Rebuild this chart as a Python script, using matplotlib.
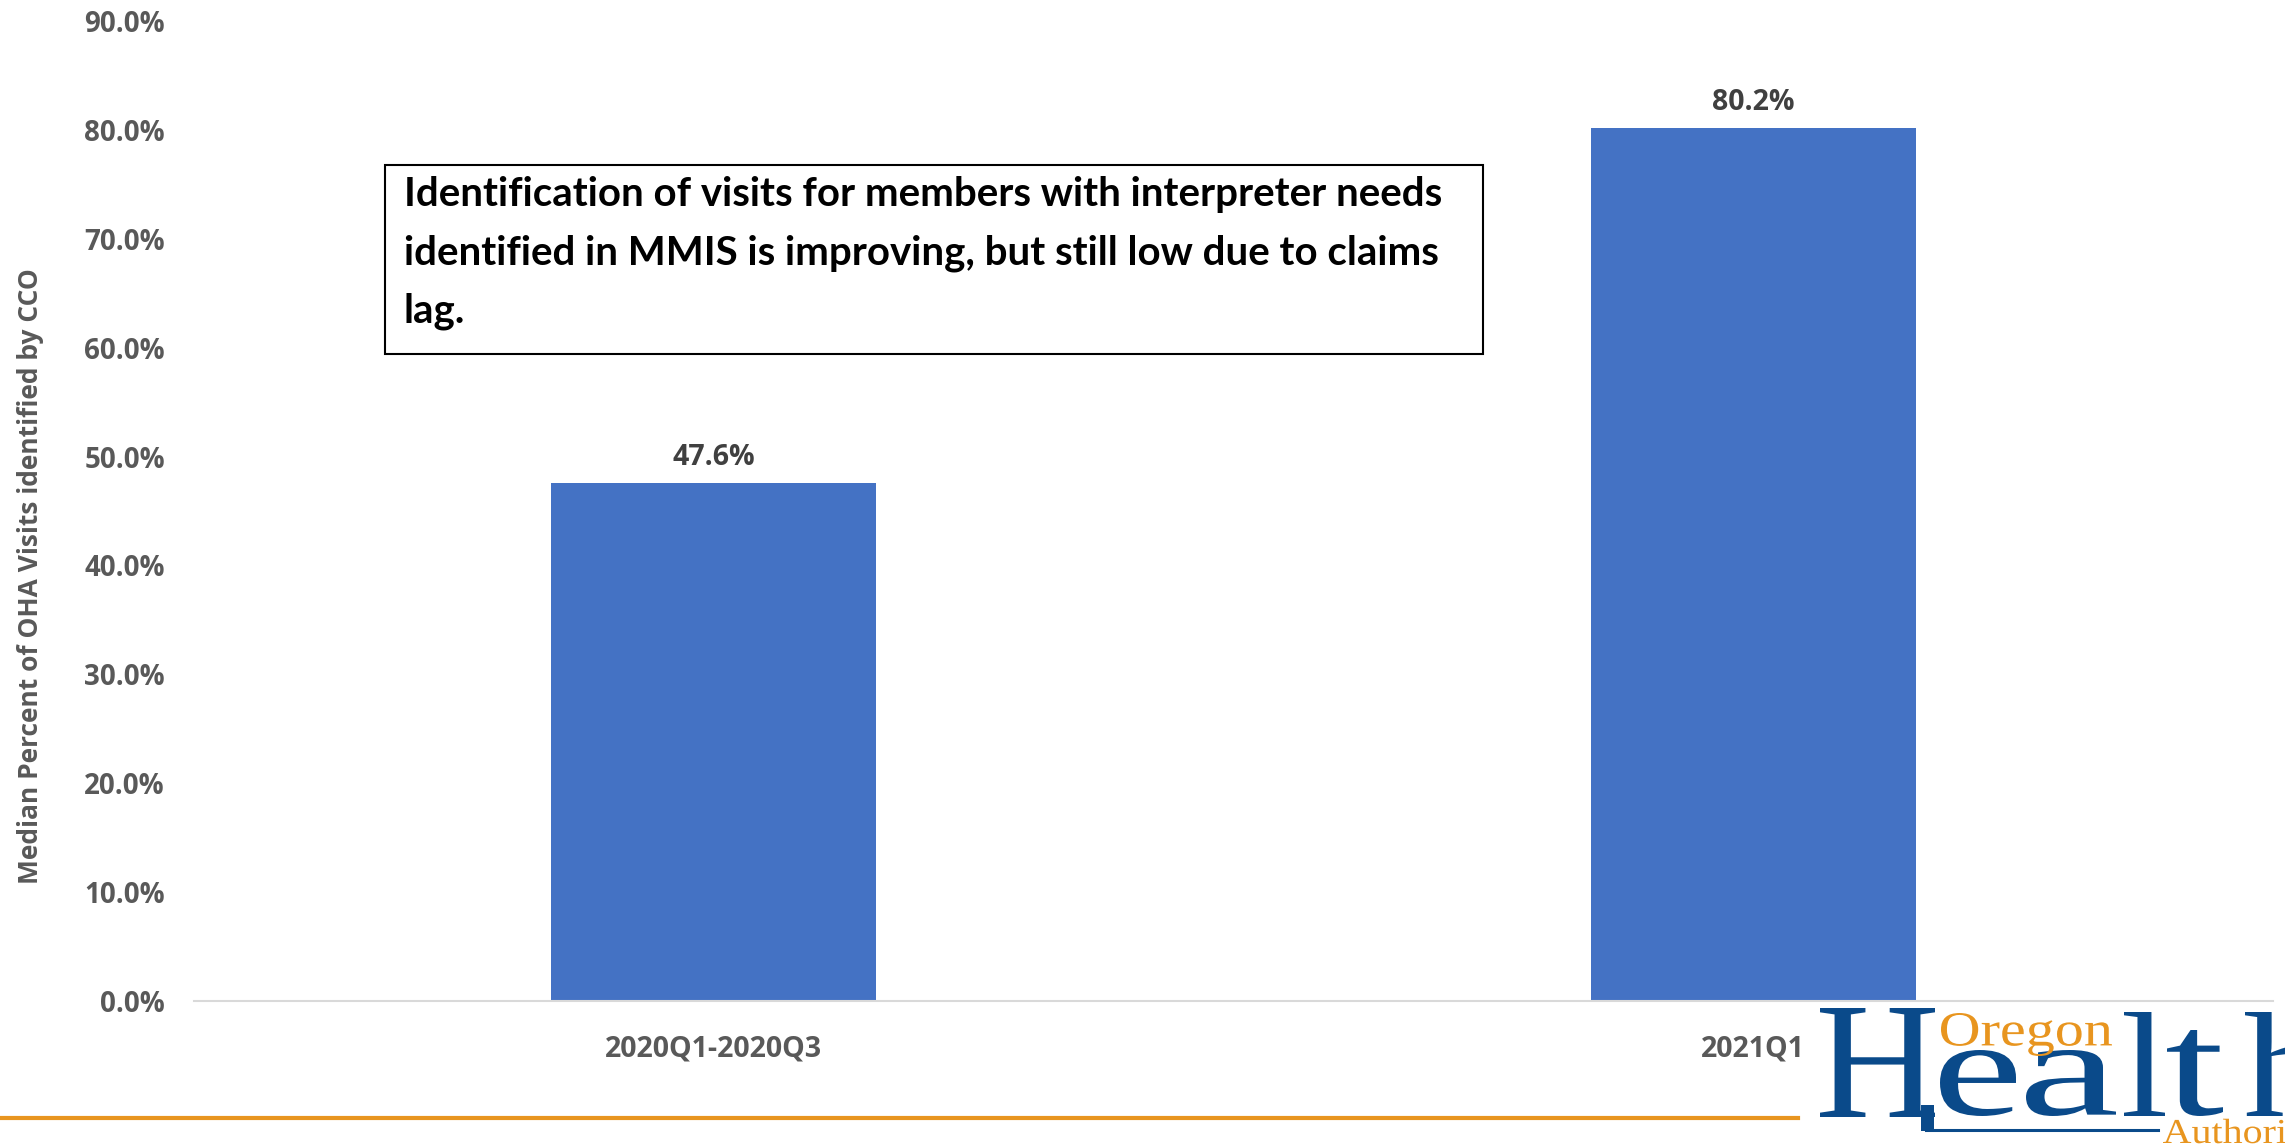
import matplotlib
matplotlib.use('Agg')
import matplotlib.pyplot as plt
import numpy as np
from matplotlib.textpath import TextPath
from matplotlib.path import Path
from matplotlib.patches import PathPatch, Rectangle
from matplotlib.font_manager import FontProperties
from matplotlib.transforms import Affine2D
from matplotlib.lines import Line2D

# data
categories = ['2020Q1-2020Q3', '2021Q1']
values = [0.476, 0.802]
yticks = [0.0, 0.1, 0.2, 0.3, 0.4, 0.5, 0.6, 0.7, 0.8, 0.9]
ylabel = 'Median Percent of OHA Visits identified by CCO'
note = ('Identification of visits for members with interpreter needs\n'
        'identified in MMIS is improving, but still low due to claims\n'
        'lag.')

W, H = 2285, 1147
BLUE = '#4472C4'
GRAY = '#595959'
DARK = '#404040'
LOGO_BLUE = '#0A4A8A'
LOGO_ORANGE = '#E8951F'

plt.rcParams['font.family'] = ['Open Sans', 'DejaVu Sans']

fig = plt.figure(figsize=(W / 100, H / 100), dpi=100)
fig.patch.set_facecolor('white')

def fx(x):
    return x / W

def fy(y):
    return 1 - y / H

ax = fig.add_axes([fx(194), fy(1001), fx(2273) - fx(194), fy(21) - fy(1001)])
x = np.arange(len(categories))
bars = ax.bar(x, values, width=0.313, color=BLUE, zorder=2)
ax.set_xlim(-0.5, 1.5)
ax.set_ylim(0, 0.9)
ax.set_yticks(yticks)
ax.set_yticklabels(['{:.1f}%'.format(v * 100) for v in yticks],
                   fontsize=20, fontweight='bold', color=GRAY)
ax.set_xticks(x)
ax.set_xticklabels(categories, fontsize=20.5, fontweight='bold', color=GRAY)
ax.tick_params(axis='y', length=0, pad=21)
ax.tick_params(axis='x', length=0, pad=24)
for s in ['top', 'right', 'left']:
    ax.spines[s].set_visible(False)
ax.spines['bottom'].set_color('#D9D9D9')
ax.spines['bottom'].set_linewidth(1.5)

for b, v in zip(bars, values):
    ax.annotate('{:.1f}%'.format(v * 100), (b.get_x() + b.get_width() / 2, v),
                xytext=(0, 8), textcoords='offset points', ha='center', va='bottom',
                fontsize=20.5, fontweight='bold', color=DARK)

fig.text(fx(31), fy(576), ylabel, rotation=90, ha='center', va='center',
         fontsize=19, fontweight='bold', color=GRAY)

# note box
fig.patches.append(Rectangle((fx(385), fy(354)), fx(1483) - fx(385), fy(165) - fy(354),
                             transform=fig.transFigure, facecolor='white',
                             edgecolor='black', linewidth=1.5, zorder=3))
fig.text(fx(404), fy(176), note, ha='left', va='top', fontsize=29,
         fontweight='bold', color='black', linespacing=1.70,
         family=['Lato', 'DejaVu Sans'], zorder=4)

# orange footer rule
fig.add_artist(Line2D([0, fx(1798)], [fy(1118), fy(1118)], color=LOGO_ORANGE, lw=3))

# logo
serif = FontProperties(family='Liberation Serif')
to_fig = Affine2D().scale(1 / W, 1 / H) + fig.transFigure

def ink(p):
    keep = (p.codes != Path.CLOSEPOLY) & (p.codes != Path.STOP)
    v = p.vertices[keep]
    return v[:, 0].min(), v[:, 1].min(), v[:, 0].max(), v[:, 1].max()

def fit(text, x0, x1, y0, y1, color):
    # squeeze the ink box of the glyphs into a pixel box (y counted from top)
    p = TextPath((0, 0), text, size=100, prop=serif)
    a0, b0, a1, b1 = ink(p)
    tr = (Affine2D().translate(-a0, -b0)
          .scale((x1 - x0) / (a1 - a0), (y1 - y0) / (b1 - b0))
          .translate(x0, H - y1))
    fig.add_artist(PathPatch(p, transform=tr + to_fig, facecolor=color,
                             edgecolor='none'))

def glyph(text, left, base, sx, sy, color):
    p = TextPath((0, 0), text, size=100, prop=serif)
    a0 = ink(p)[0]
    tr = Affine2D().translate(-a0, 0).scale(sx, sy).translate(left, H - base)
    fig.add_artist(PathPatch(p, transform=tr + to_fig, facecolor=color,
                             edgecolor='none'))

fit('H', 1820, 1935, 1008, 1117, LOGO_BLUE)
fit('e', 1940, 2016, 1050, 1116, LOGO_BLUE)
fit('a', 2026, 2116, 1050, 1116, LOGO_BLUE)
fit('l', 2124, 2165, 1012, 1116, LOGO_BLUE)
fit('t', 2167, 2223, 1030, 1116, LOGO_BLUE)
fit('h', 2245, 2330, 1012, 1116, LOGO_BLUE)
fit('Oregon', 1941, 2112, 1013, 1056, LOGO_ORANGE)
glyph('Authority', 2163, 1143, 0.40, 0.35, LOGO_ORANGE)
fig.add_artist(Line2D([fx(1926), fx(2158)], [fy(1130), fy(1130)], color=LOGO_BLUE, lw=2.2))
fig.patches.append(Rectangle((fx(1921), fy(1131)), fx(13), fy(1105) - fy(1131),
                             transform=fig.transFigure, facecolor=LOGO_BLUE,
                             edgecolor='none'))

fig.savefig('out.png', dpi=100)
